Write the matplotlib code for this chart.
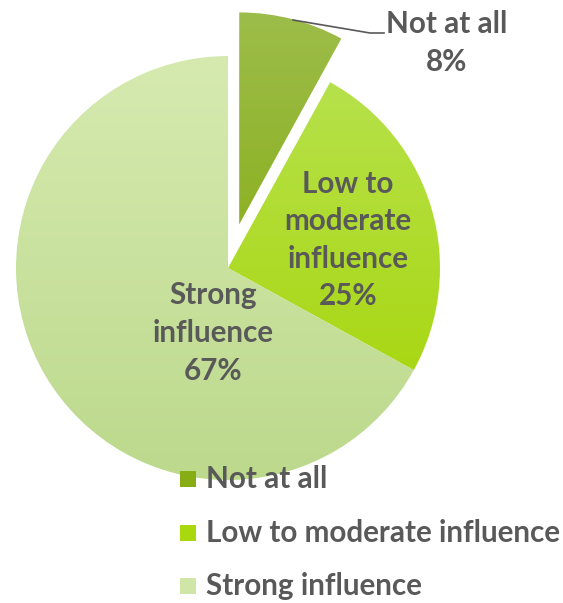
import numpy as np
import matplotlib
matplotlib.use("Agg")
import matplotlib.pyplot as plt
from matplotlib.colors import LinearSegmentedColormap

categories = ["Not at all", "Low to moderate influence", "Strong influence"]
shares = [8, 25, 67]
slice_labels = ["Not at all\n8%", "Low to\nmoderate\ninfluence\n25%", "Strong\ninfluence\n67%"]

# top/bottom colours of each slice's vertical gradient
grad_top = ["#9dbd4a", "#b8e250", "#d6eab0"]
grad_bot = ["#7ea600", "#a4d400", "#bcd98c"]
legend_colors = ["#86ad14", "#a9d80e", "#cfe6a6"]

text_color = "#595959"
plt.rcParams["font.family"] = ["Lato", "DejaVu Sans"]

W, H = 563, 603
fig = plt.figure(figsize=(W / 100, H / 100), dpi=100)
ax = fig.add_axes([0, 0, 1, 1])

cx, cy, R = 228, H - 268, 212
wedges, _ = ax.pie(shares, startangle=90, counterclock=False, center=(cx, cy),
                   radius=R, explode=[45, 0, 0], frame=True,
                   wedgeprops=dict(linewidth=0))
ax.set_xlim(0, W)
ax.set_ylim(0, H)
ax.set_aspect("equal")
ax.axis("off")

grad = np.linspace(0, 1, 256).reshape(-1, 1)
for w, top, bot in zip(wedges, grad_top, grad_bot):
    w.set_facecolor("none")
    cmap = LinearSegmentedColormap.from_list("g", [top, bot])
    wx, wy = w.center
    im = ax.imshow(grad, cmap=cmap, extent=(wx - R, wx + R, wy - R, wy + R),
                   origin="upper", aspect="auto", zorder=1, interpolation="bilinear")
    im.set_clip_path(w)

fs = 21.3
ls = 1.42
# leader line for the exploded slice
ax.plot([293, 370, 384], [H - 20, H - 33, H - 33], color=text_color, lw=1.2, zorder=3)
ax.text(447, H - 43, slice_labels[0], ha="center", va="center", fontsize=fs,
        fontweight="bold", color=text_color, linespacing=ls, zorder=4)
ax.text(348, H - 240, slice_labels[1], ha="center", va="center", fontsize=fs,
        fontweight="bold", color=text_color, linespacing=ls, zorder=4)
ax.text(213, H - 333, slice_labels[2], ha="center", va="center", fontsize=fs,
        fontweight="bold", color=text_color, linespacing=ls, zorder=4)

# legend
rows_y = [479, 533, 586]
for name, col, ry in zip(categories, legend_colors, rows_y):
    ax.add_patch(plt.Rectangle((180, H - ry - 8), 16, 16, facecolor=col,
                               edgecolor="none", zorder=4))
    ax.text(206, H - ry, name, ha="left", va="center", fontsize=fs,
            fontweight="bold", color=text_color, zorder=4)

fig.savefig("out.png", dpi=100)
